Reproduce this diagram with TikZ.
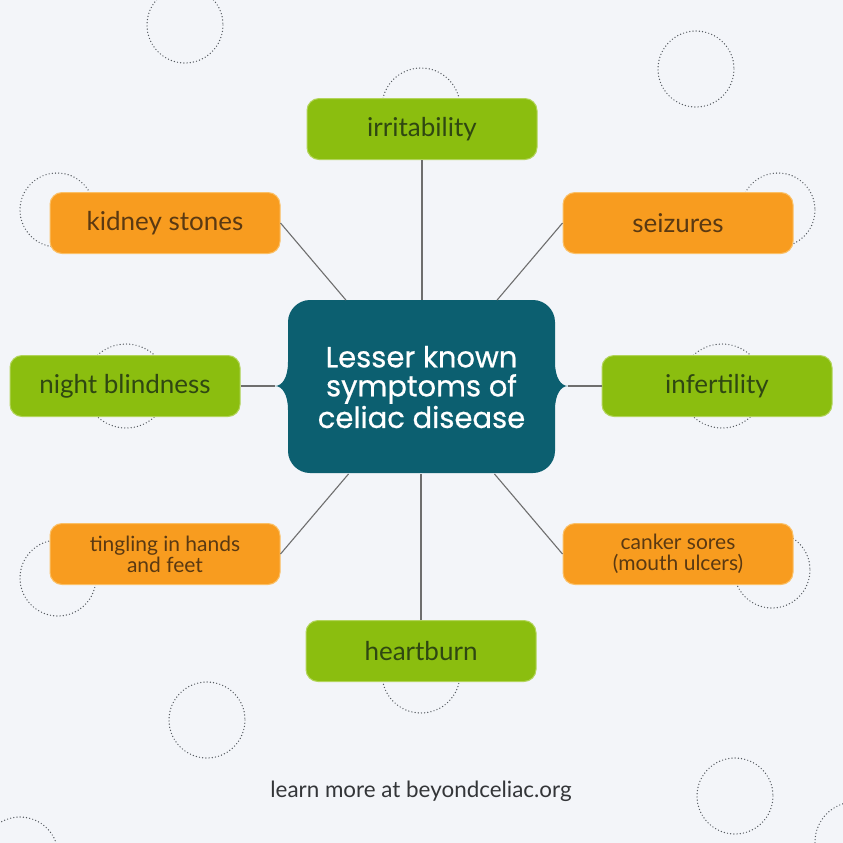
\documentclass[tikz,border=0pt]{standalone}
\usepackage{fontspec}
\setmainfont{Lato}
\newfontfamily\titlefont{Poppins}[FakeBold=0.7]
\definecolor{bgpaper}{HTML}{F3F5F9}
\definecolor{leaf}{HTML}{8BBE0F}
\definecolor{leafedge}{HTML}{B2D45A}
\definecolor{leaftext}{HTML}{2F4712}
\definecolor{amber}{HTML}{F89C1F}
\definecolor{amberedge}{HTML}{FBC066}
\definecolor{ambertext}{HTML}{5A3912}
\definecolor{hubteal}{HTML}{0C5F70}
\definecolor{linkgray}{HTML}{6E6E6E}
\definecolor{ringgray}{HTML}{555A60}
\definecolor{footgray}{HTML}{333538}

\begin{document}
\begin{tikzpicture}[x=0.5pt, y=-0.5pt, every node/.style={font=\fontsize{13}{15}\selectfont},
    symptom/.style={rounded corners=6pt, minimum width=115pt, minimum height=30.5pt, inner sep=0pt, align=center, line width=0.5pt},
    greenbox/.style={symptom, fill=leaf, draw=leafedge, text=leaftext},
    orangebox/.style={symptom, fill=amber, draw=amberedge, text=ambertext},
    twoline/.style={font=\fontsize{10.5}{10.5}\selectfont},
    link/.style={draw=linkgray, line width=0.55pt},
    ring/.style={draw=ringgray, line width=0.7pt, dash pattern=on 0pt off 1.6pt, line cap=round}]
    % Paper
    \useasboundingbox (0,0) rectangle (843,843);
    \clip (0,0) rectangle (843,843);
    \fill[bgpaper] (0,0) rectangle (843,843);

    % Dotted rings
    \draw[ring] (185,25) circle (38);
    \draw[ring] (696,69) circle (38);
    \draw[ring] (57,210) circle (37);
    \draw[ring] (778,210) circle (37);
    \draw[ring] (421,107) circle (39);
    \draw[ring] (126,386) circle (42);
    \draw[ring] (722,386) circle (42);
    \draw[ring] (58,578) circle (38);
    \draw[ring] (772,570) circle (38);
    \draw[ring] (421,674) circle (39);
    \draw[ring] (207,720) circle (38);
    \draw[ring] (735,796) circle (38);
    \draw[ring] (855,842) circle (40);
    \draw[ring] (20,855) circle (38);

    % Centre bubble
    \fill[hubteal] (310,300) -- (533,300) .. controls (545,300) and (555,310) .. (555,322)
      -- (555,362) .. controls (555,378) and (561,386) .. (568,386)
      .. controls (561,386) and (555,394) .. (555,410)
      -- (555,451) .. controls (555,463) and (545,473) .. (533,473)
      -- (310,473) .. controls (298,473) and (288,463) .. (288,451)
      -- (288,410) .. controls (288,394) and (282,386) .. (275,386)
      .. controls (282,386) and (288,378) .. (288,362)
      -- (288,322) .. controls (288,310) and (298,300) .. (310,300) -- cycle;
    \coordinate (tipL) at (275,386);
    \coordinate (tipR) at (568,386);
    \node[text=white, font=\titlefont\fontsize{14.5}{14.5}\selectfont, align=center,
      minimum width=133.5pt, minimum height=86.5pt, inner sep=0pt] (hub) at (421.5,387)
      {Lesser known\\symptoms of\\celiac disease};

    % Symptoms
    \node[greenbox] (irritability) at (422,129) {irritability};
    \node[orangebox] (kidney) at (165,223) {kidney stones};
    \node[orangebox] (seizures) at (678,223) {seizures};
    \node[greenbox] (nightblind) at (125,386) {night blindness};
    \node[greenbox] (infertility) at (717,386) {infertility};
    \node[orangebox, twoline] (tingling) at (165,554) {tingling in hands\\and feet};
    \node[orangebox, twoline] (canker) at (678,554) {canker sores\\(mouth ulcers)};
    \node[greenbox] (heartburn) at (421,651) {heartburn};

    % Links
    \draw[link] (irritability.south) -- (hub.north -| irritability.south);
    \draw[link] (kidney.east) -- (hub.131);
    \draw[link] (seizures.west) -- (hub.49);
    \draw[link] (nightblind.east) -- (tipL);
    \draw[link] (infertility.west) -- (tipR);
    \draw[link] (tingling.east) -- (hub.230);
    \draw[link] (canker.west) -- (hub.310);
    \draw[link] (heartburn.north) -- (hub.south -| heartburn.north);

    % Footer
    \node[text=footgray, font=\fontsize{11.2}{12}\selectfont] (footer) at (421,791) {learn more at beyondceliac.org};
\end{tikzpicture}
\end{document}
